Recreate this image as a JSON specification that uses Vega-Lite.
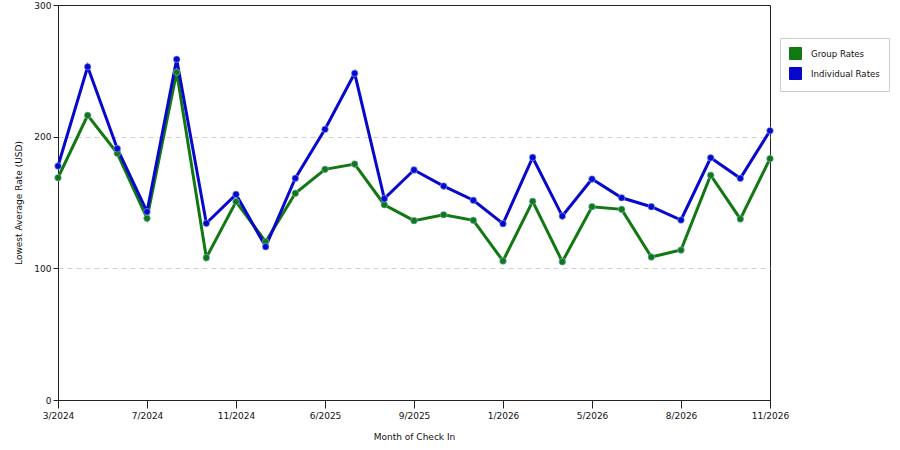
{
  "$schema": "https://vega.github.io/schema/vega-lite/v6.json",
  "width": 712,
  "height": 395,
  "autosize": {"type": "none"},
  "padding": {"left": 58, "top": 5, "right": 130, "bottom": 50},
  "background": "white",
  "config": {
    "font": "DejaVu Sans",
    "view": {"stroke": "#222222", "strokeWidth": 1},
    "axis": {
      "labelFont": "DejaVu Sans",
      "titleFont": "DejaVu Sans",
      "labelFontSize": 9,
      "titleFontSize": 9,
      "labelColor": "#111111",
      "titleColor": "#111111",
      "titleFontWeight": "normal",
      "domainColor": "#222222",
      "tickColor": "#222222"
    }
  },
  "data": {
    "values": [
      {"month": "3/2024", "series": "Group Rates", "rate": 168.8},
      {"month": "4/2024", "series": "Group Rates", "rate": 216.2},
      {"month": "5/2024", "series": "Group Rates", "rate": 187.4},
      {"month": "7/2024", "series": "Group Rates", "rate": 138.0},
      {"month": "8/2024", "series": "Group Rates", "rate": 248.9},
      {"month": "9/2024", "series": "Group Rates", "rate": 108.1},
      {"month": "11/2024", "series": "Group Rates", "rate": 150.6},
      {"month": "12/2024", "series": "Group Rates", "rate": 120.2},
      {"month": "3/2025", "series": "Group Rates", "rate": 157.0},
      {"month": "6/2025", "series": "Group Rates", "rate": 175.2},
      {"month": "7/2025", "series": "Group Rates", "rate": 179.2},
      {"month": "8/2025", "series": "Group Rates", "rate": 148.3},
      {"month": "9/2025", "series": "Group Rates", "rate": 136.2},
      {"month": "10/2025", "series": "Group Rates", "rate": 140.7},
      {"month": "11/2025", "series": "Group Rates", "rate": 136.5},
      {"month": "1/2026", "series": "Group Rates", "rate": 105.6},
      {"month": "2/2026", "series": "Group Rates", "rate": 150.9},
      {"month": "3/2026", "series": "Group Rates", "rate": 105.0},
      {"month": "5/2026", "series": "Group Rates", "rate": 146.8},
      {"month": "6/2026", "series": "Group Rates", "rate": 144.8},
      {"month": "7/2026", "series": "Group Rates", "rate": 108.6},
      {"month": "8/2026", "series": "Group Rates", "rate": 113.9},
      {"month": "9/2026", "series": "Group Rates", "rate": 170.7},
      {"month": "10/2026", "series": "Group Rates", "rate": 137.5},
      {"month": "11/2026", "series": "Group Rates", "rate": 183.3},
      {"month": "3/2024", "series": "Individual Rates", "rate": 177.7},
      {"month": "4/2024", "series": "Individual Rates", "rate": 253.1},
      {"month": "5/2024", "series": "Individual Rates", "rate": 190.9},
      {"month": "7/2024", "series": "Individual Rates", "rate": 143.0},
      {"month": "8/2024", "series": "Individual Rates", "rate": 258.8},
      {"month": "9/2024", "series": "Individual Rates", "rate": 134.2},
      {"month": "11/2024", "series": "Individual Rates", "rate": 156.2},
      {"month": "12/2024", "series": "Individual Rates", "rate": 116.4},
      {"month": "3/2025", "series": "Individual Rates", "rate": 168.4},
      {"month": "6/2025", "series": "Individual Rates", "rate": 205.6},
      {"month": "7/2025", "series": "Individual Rates", "rate": 248.1},
      {"month": "8/2025", "series": "Individual Rates", "rate": 152.9},
      {"month": "9/2025", "series": "Individual Rates", "rate": 174.7},
      {"month": "10/2025", "series": "Individual Rates", "rate": 162.5},
      {"month": "11/2025", "series": "Individual Rates", "rate": 151.7},
      {"month": "1/2026", "series": "Individual Rates", "rate": 133.9},
      {"month": "2/2026", "series": "Individual Rates", "rate": 184.2},
      {"month": "3/2026", "series": "Individual Rates", "rate": 139.7},
      {"month": "5/2026", "series": "Individual Rates", "rate": 167.8},
      {"month": "6/2026", "series": "Individual Rates", "rate": 153.6},
      {"month": "7/2026", "series": "Individual Rates", "rate": 146.8},
      {"month": "8/2026", "series": "Individual Rates", "rate": 136.7},
      {"month": "9/2026", "series": "Individual Rates", "rate": 184.0},
      {"month": "10/2026", "series": "Individual Rates", "rate": 168.4},
      {"month": "11/2026", "series": "Individual Rates", "rate": 204.5}
    ]
  },
  "encoding": {
    "x": {
      "field": "month",
      "type": "ordinal",
      "sort": null,
      "scale": {"type": "point", "padding": 0},
      "title": "Month of Check In",
      "axis": {
        "values": ["3/2024", "7/2024", "11/2024", "6/2025", "9/2025", "1/2026", "5/2026", "8/2026", "11/2026"],
        "labelAngle": 0,
        "tickSize": 8,
        "labelPadding": 3,
        "titlePadding": 12,
        "grid": false
      }
    },
    "y": {
      "field": "rate",
      "type": "quantitative",
      "title": "Lowest Average Rate (USD)",
      "scale": {"domain": [0, 300], "nice": false},
      "axis": {
        "values": [0, 100, 200, 300],
        "tickSize": 5,
        "labelPadding": 2,
        "titlePadding": 10,
        "grid": true,
        "gridDash": [5, 4],
        "gridColor": "#d0d0d0",
        "gridOpacity": {"condition": {"test": "datum.value === 0 || datum.value === 300", "value": 0}, "value": 1}
      }
    },
    "color": {
      "field": "series",
      "type": "nominal",
      "scale": {"domain": ["Group Rates", "Individual Rates"], "range": ["#127812", "#0808CC"]},
      "legend": {
        "title": null,
        "orient": "none",
        "legendX": 722,
        "legendY": 33,
        "symbolType": "square",
        "symbolSize": 144,
        "symbolStrokeColor": "#333333",
        "symbolStrokeWidth": 1,
        "symbolOpacity": 1,
        "labelFont": "DejaVu Sans",
        "labelFontSize": 8.6,
        "labelColor": "#111111",
        "labelOffset": 9,
        "rowPadding": 3,
        "padding": 9,
        "strokeColor": "#cccccc",
        "fillColor": "white"
      }
    }
  },
  "layer": [
    {
      "mark": {"type": "line", "strokeWidth": 3}
    },
    {
      "mark": {"type": "point", "filled": true, "shape": "circle", "size": 45, "opacity": 1, "stroke": "#88bbee", "strokeWidth": 1, "strokeOpacity": 0.6}
    }
  ]
}
